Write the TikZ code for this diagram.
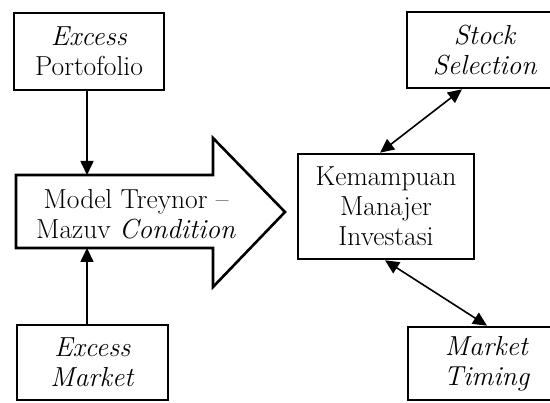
\documentclass[tikz,border=0pt]{standalone}
\usepackage{amsmath}
\usepackage{tikz}
\usetikzlibrary{positioning, arrows.meta}

\begin{document}
\begin{tikzpicture}[
    x=1pt, y=-1pt,
    boxnode/.style={rectangle, draw=black, line width=2.6pt, align=center, inner sep=0pt, font=\fontsize{27.5}{30}\selectfont},
    textnode/.style={align=center, inner sep=0pt, font=\fontsize{27.5}{30}\selectfont},
    conn/.style={line width=1.6pt, -{Triangle[length=14pt,width=13pt]}},
    dconn/.style={line width=1.6pt, {Triangle[length=14pt,width=13pt]}-{Triangle[length=14pt,width=13pt]}}
    ]
    \useasboundingbox (0,0) rectangle (550,403);
    \clip (0,0) rectangle (550,403);

    \node[boxnode, minimum width=150pt, minimum height=77pt] (excessp) at (89,51.5)   {\textit{Excess}\\Portofolio};
    \node[boxnode, minimum width=151pt, minimum height=75pt] (excessm) at (92.5,362.5) {\textit{Excess}\\\textit{Market}};
    \node[boxnode, minimum width=176pt, minimum height=105pt] (kemampuan) at (386,206.5) {Kemampuan\\Manajer\\Investasi};
    \node[boxnode, minimum width=156pt, minimum height=76pt] (stock)  at (485,50)   {\textit{Stock}\\\textit{Selection}};
    \node[boxnode, minimum width=158pt, minimum height=73pt] (timing) at (487,363.5) {\textit{Market}\\\textit{Timing}};

    % big arrow
    \draw[line width=2.6pt, line join=miter] (16,175) -- (213,175) -- (213,138) -- (285,212)
        -- (213,287) -- (213,248) -- (16,248) -- cycle;
    \node[textnode] (model) at (136,214) {Model Treynor --\\Mazuv \textit{Condition}};
    \coordinate (bodytop) at (87,175);
    \coordinate (bodybot) at (87,248);

    \draw[conn] (excessp.south -| bodytop) -- (bodytop);
    \draw[conn] (excessm.north -| bodybot) -- (bodybot);
    \draw[dconn] ([xshift=-6pt]kemampuan.north) -- ([xshift=-23pt]stock.south);
    \draw[dconn] ([xshift=-1pt]kemampuan.south) -- (timing.north);
\end{tikzpicture}
\end{document}
